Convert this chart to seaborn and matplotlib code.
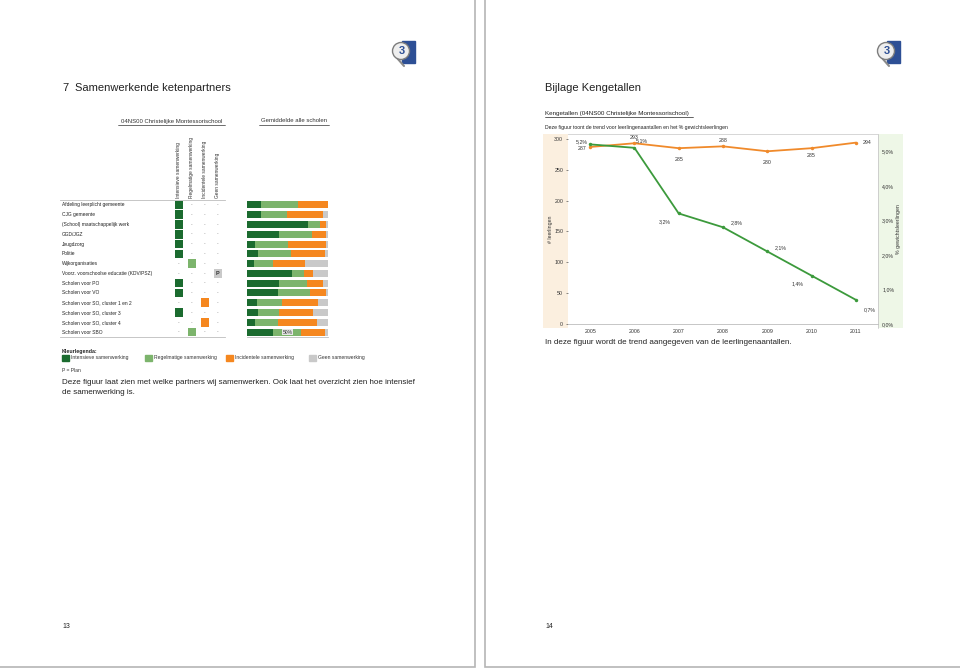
import matplotlib
matplotlib.use("Agg")
import matplotlib.pyplot as plt
from matplotlib.patches import Rectangle, Circle
import seaborn as sns
import pandas as pd

# ---- data: samenwerking ketenpartners ----
partners = [
    "Afdeling leerplicht gemeente", "CJG gemeente", "(School) maatschappelijk werk",
    "GGD/JGZ", "Jeugdzorg", "Politie", "Wijkorganisaties",
    "Voorz. voorschoolse educatie (KDV/PSZ)", "Scholen voor PO", "Scholen voor VO",
    "Scholen voor SO, cluster 1 en 2", "Scholen voor SO, cluster 3",
    "Scholen voor SO, cluster 4", "Scholen voor SBO",
]
# 0 = intensief, 1 = regelmatig, 2 = incidenteel, 3 = geen
school_level = [0, 0, 0, 0, 0, 0, 1, 3, 0, 0, 2, 0, 2, 1]
school_plan = [False] * 7 + [True] + [False] * 6

avg_intensief = [17, 17, 75, 39, 10, 14, 9, 55, 39, 38, 12, 14, 10, 32]
avg_regelmatig = [46, 32, 15, 41, 41, 40, 23, 15, 35, 40, 31, 25, 28, 35]
avg_incidenteel = [37, 45, 8, 18, 47, 42, 40, 11, 20, 20, 45, 43, 48, 29]

levels = ["Intensieve samenwerking", "Regelmatige samenwerking",
          "Incidentele samenwerking", "Geen samenwerking"]

# ---- data: kengetallen ----
years = [2005, 2006, 2007, 2008, 2009, 2010, 2011]
leerlingen = [287, 293, 285, 288, 280, 285, 294]
gewicht_pct = [5.2, 5.1, 3.2, 2.8, 2.1, 1.4, 0.7]

DARK = "#1b6b2f"
LIGHT = "#7cb46c"
ORANGE = "#f5871f"
GREY = "#c9c9c9"
level_colors = [DARK, LIGHT, ORANGE, GREY]

sns.set_theme(style="white")
plt.rcParams["font.family"] = ["Liberation Sans", "DejaVu Sans"]

W, H = 960, 669
fig = plt.figure(figsize=(9.6, 6.69), dpi=100)
fig.patch.set_facecolor("white")


def box(x0, y0, x1, y1):
    return [x0 / W, 1 - y1 / H, (x1 - x0) / W, (y1 - y0) / H]


# background axes in pixel coordinates
bg = fig.add_axes([0, 0, 1, 1])
bg.set_xlim(0, W)
bg.set_ylim(H, 0)
bg.axis("off")

# pages
bg.add_patch(Rectangle((-2, -2), 477, 669, fill=False, ec="#b5b5b5", lw=1.2))
bg.add_patch(Rectangle((485, -2), 480, 669, fill=False, ec="#b5b5b5", lw=1.2))

# logos
for lx in (392, 877):
    bg.add_patch(Rectangle((lx + 10, 41), 13, 22, color="#2d4f95", zorder=2))
    bg.plot([lx + 5, lx + 12], [58, 66], color="#8a8a8a", lw=1.5, zorder=3)
    bg.add_patch(Circle((lx + 9, 51), 8.5, fc="#eeeeee", ec="#7d7d7d", lw=1, zorder=4))
    bg.text(lx + 10, 51.5, "3", fontsize=8, fontweight="bold", color="#2d4f95",
            ha="center", va="center", zorder=5)

text_col = "#222222"
bg.text(62, 88, "7", fontsize=8, color=text_col, va="center")
bg.text(75, 88, "Samenwerkende ketenpartners", fontsize=8, color=text_col, va="center")
bg.text(545, 88, "Bijlage Kengetallen", fontsize=8, color=text_col, va="center")

# left page headers
bg.text(171.5, 121, "04NS00 Christelijke Montessorischool", fontsize=4.3,
        color="#333333", ha="center", va="center")
bg.plot([118, 225], [124.5, 124.5], color="#333333", lw=0.5)
bg.text(294, 121, "Gemiddelde alle scholen", fontsize=4.3,
        color="#333333", ha="center", va="center")
bg.plot([259, 329], [124.5, 124.5], color="#333333", lw=0.5)

# legend
bg.text(62, 351, "Kleurlegenda:", fontsize=3.8, fontweight="bold", color=text_col, va="center")
for lx, col, lab in zip([62, 145, 226, 309], level_colors, levels):
    bg.add_patch(Rectangle((lx, 355), 7, 6, color=col))
    bg.text(lx + 9, 358, lab, fontsize=3.6, color="#333333", va="center")
bg.text(62, 370, "P = Plan", fontsize=3.6, color="#333333", va="center")
bg.text(62, 382, "Deze figuur laat zien met welke partners wij samenwerken. "
        "Ook laat het overzicht zien hoe intensief", fontsize=5.75, color=text_col, va="center")
bg.text(62, 393, "de samenwerking is.", fontsize=5.75, color=text_col, va="center")
bg.text(62, 627, "13", fontsize=5, color=text_col, va="center")

# right page headers
bg.text(545, 113, "Kengetallen (04NS00 Christelijke Montessorischool)", fontsize=4.5,
        color="#222222", va="center")
bg.plot([545, 693], [116.5, 116.5], color="#222222", lw=0.5)
bg.text(545, 127, "Deze figuur toont de trend voor leerlingenaantallen en het % gewichtsleerlingen",
        fontsize=3.7, color="#222222", va="center")
bg.add_patch(Rectangle((543, 134), 25, 194, color="#fbefdf", lw=0))
bg.add_patch(Rectangle((878, 134), 25, 194, color="#eef7e7", lw=0))
bg.plot([878, 878], [134, 328], color="#c8c8c8", lw=0.6)
bg.text(545, 343, "In deze figuur wordt de trend aangegeven van de leerlingenaantallen.",
        fontsize=5.75, color=text_col, va="center")
bg.text(545, 627, "14", fontsize=5, color=text_col, va="center")

# ---- matrix of own school ----
mx = fig.add_axes(box(60, 200, 225, 337))
mx.set_xlim(-9.15, 3.54)
mx.set_ylim(len(partners) - 0.5, -0.5)
mx.set_facecolor("none")
for s in ["left", "right"]:
    mx.spines[s].set_visible(False)
for s in ["top", "bottom"]:
    mx.spines[s].set_color("#bdbdbd")
    mx.spines[s].set_linewidth(0.6)
mx.set_xticks([])
mx.set_yticks([])

mdf = pd.DataFrame({"row": range(len(partners)), "col": school_level,
                    "level": [levels[i] for i in school_level]})
sns.scatterplot(data=mdf, x="col", y="row", hue="level", hue_order=levels,
                palette=level_colors, marker="s", s=38, linewidth=0, legend=False, ax=mx)
for i, name in enumerate(partners):
    mx.text(-9.0, i, name, fontsize=3.5, color="#222222", va="center", ha="left")
    for c in range(4):
        if c != school_level[i]:
            mx.text(c, i, "-", fontsize=3.5, color="#888888", ha="center", va="center")
    if school_plan[i]:
        mx.text(school_level[i], i, "P", fontsize=4, fontweight="bold",
                color="#333333", ha="center", va="center")
for c, lab in enumerate(levels):
    mx.text(c, -0.75, lab, fontsize=3.5, rotation=90, color="#333333",
            ha="center", va="bottom")

# ---- stacked bars for average of all schools ----
bx = fig.add_axes(box(247, 200, 328, 337))
bdf = pd.DataFrame({"partner": partners, "i": avg_intensief,
                    "r": avg_regelmatig, "o": avg_incidenteel})
bdf["c1"] = bdf["i"]
bdf["c2"] = bdf["i"] + bdf["r"]
bdf["c3"] = bdf["c2"] + bdf["o"]
bdf["c4"] = 100
for colname, col in zip(["c4", "c3", "c2", "c1"], [GREY, ORANGE, LIGHT, DARK]):
    sns.barplot(data=bdf, x=colname, y="partner", orient="h", color=col,
                width=0.72, linewidth=0, saturation=1, ax=bx)
bx.set_xlim(0, 100)
bx.set_ylim(len(partners) - 0.5, -0.5)
bx.set_xlabel("")
bx.set_ylabel("")
bx.set_xticks([])
bx.set_yticks([])
for s in ["left", "right", "top"]:
    bx.spines[s].set_visible(False)
bx.spines["bottom"].set_color("#bdbdbd")
bx.spines["bottom"].set_linewidth(0.6)
bx.set_facecolor("none")
bx.text(50, len(partners) - 1, "50%", fontsize=3.6, color="#333333", ha="center",
        va="center", bbox=dict(boxstyle="square,pad=0.15", fc="#e6e6e6", ec="none"))

# ---- trend chart ----
ax = fig.add_axes(box(568, 134, 878, 324))
ax.set_facecolor("none")
tdf = pd.DataFrame({"jaar": years, "leerlingen": leerlingen, "gewicht": gewicht_pct})
sns.lineplot(data=tdf, x="jaar", y="leerlingen", color="#f08a2b", lw=1.3,
             marker="o", markersize=2.5, markeredgewidth=0, ax=ax)
ax.set_xlim(2004.5, 2011.5)
ax.set_ylim(0, 308)
ax.set_yticks(range(0, 301, 50))
ax.set_xticks(years)
ax.tick_params(axis="both", labelsize=3.8, colors="#333333", length=1.5, width=0.4, pad=2)
ax.set_xlabel("")
ax.set_ylabel("# leerlingen", fontsize=3.8, color="#333333", labelpad=1)
for s in ["left", "right"]:
    ax.spines[s].set_visible(False)
ax.spines["top"].set_color("#d0d0d0")
ax.spines["bottom"].set_color("#bdbdbd")
ax.spines["top"].set_linewidth(0.6)
ax.spines["bottom"].set_linewidth(0.6)

ax2 = ax.twinx()
sns.lineplot(data=tdf, x="jaar", y="gewicht", color="#3c9a3c", lw=1.3,
             marker="o", markersize=2.5, markeredgewidth=0, ax=ax2)
ax2.set_ylim(0, 5.5)
ax2.set_yticks([0, 1, 2, 3, 4, 5])
ax2.set_yticklabels([f"{v:.1f}%".replace(".", ",") for v in [0, 1, 2, 3, 4, 5]])
ax2.tick_params(axis="y", labelsize=3.8, colors="#333333", length=0, pad=3)
ax2.set_ylabel("% gewichtsleerlingen", fontsize=3.8, color="#333333", labelpad=1)
for s in ["left", "right", "top", "bottom"]:
    ax2.spines[s].set_visible(False)

orange_off = [(-6, -1), (0, 4), (0, -8), (0, 4), (0, -8), (0, -5), (8, 0)]
green_off = [(-6, 2), (5, 5), (-10, -6), (10, 3), (10, 3), (-10, -6), (10, -7)]
for x, v, off in zip(years, leerlingen, orange_off):
    ax.annotate(str(v), (x, v), xytext=off, textcoords="offset points",
                fontsize=3.8, color="#333333", ha="center", va="center")
for x, v, off in zip(years, gewicht_pct, green_off):
    ax2.annotate(f"{v:.1f}%".replace(".", ","), (x, v), xytext=off, textcoords="offset points",
                 fontsize=3.8, color="#333333", ha="center", va="center")

fig.savefig("out.png", dpi=100, facecolor="white")
